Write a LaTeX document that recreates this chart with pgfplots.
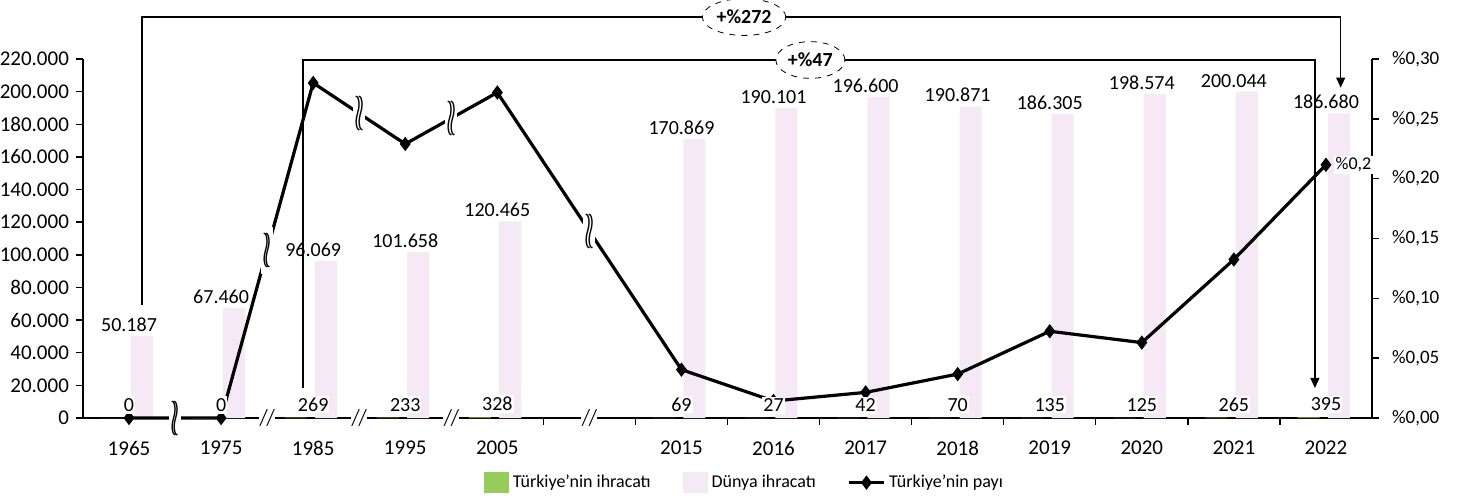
\documentclass[border=0pt]{standalone}
\usepackage{pgfplots}
\pgfplotsset{compat=1.18}
\usepackage{fontspec}
\setmainfont{Carlito}
\usetikzlibrary{shapes.geometric, arrows.meta}

\definecolor{world}{RGB}{244,233,244}
\definecolor{trgreen}{RGB}{150,204,90}

\pgfplotsset{
  common/.style={
    scale only axis, width=644.5pt, height=179.5pt,
    at={(0,0)}, anchor=south west,
    xmin=-0.5, xmax=13.5,
    clip=false,
    /pgf/number format/assume math mode=true,
  }
}
\newcommand{\wavy}{\scalebox{1.3}[2.6]{$\wr\!\wr$}}
\newcommand{\brkslash}{\scalebox{1}[1.3]{\itshape //}}

\begin{document}
\begin{tikzpicture}
\useasboundingbox (-41.5pt,-38.5pt) rectangle (690.5pt,209pt);

% ---------- axis 1: world exports (left scale) ----------
\begin{axis}[common,
  ymin=0, ymax=220000,
  axis y line*=left, axis x line*=bottom,
  axis line style={-, black, line width=0.7pt},
  ytick={0,20000,...,220000},
  scaled y ticks=false,
  yticklabel style={/pgf/number format/.cd, fixed, precision=0, 1000 sep={.}},
  tick label style={font=\fontsize{10.5}{12}\selectfont},
  xtick={4.5,5.5,...,12.5},
  xticklabels={},
  extra x ticks={0,1,2,3,4,6,7,8,9,10,11,12,13},
  extra x tick labels={1965,1975,1985,1995,2005,2015,2016,2017,2018,2019,2020,2021,2022},
  extra x tick style={major tick length=0pt},
  xticklabel style={yshift=-8pt},
  tick align=outside,
  major tick length=3.5pt,
  tick style={black, line width=0.7pt},
  legend style={at={(0.514,-0.18)}, anchor=center, draw=none, fill=none,
    legend columns=3, font=\fontsize{9}{10}\selectfont,
    /tikz/every even column/.append style={column sep=14pt}},
]
\addlegendimage{legend image code/.code={\fill[trgreen] (0pt,-5pt) rectangle (12pt,5pt);}}
\addlegendentry{Türkiye’nin ihracatı}
\addlegendimage{legend image code/.code={\fill[world] (0pt,-5pt) rectangle (12pt,5pt);}}
\addlegendentry{Dünya ihracatı}
\addlegendimage{black, line width=1.6pt, mark=diamond*, mark size=2.3pt}
\addlegendentry{Türkiye’nin payı}

\addplot[ybar, forget plot, bar width=0.24, bar shift=0.14, fill=world, draw=none,
  nodes near coords={\pgfmathprintnumber[fixed,precision=0,1000 sep={.},assume math mode=true]{\pgfplotspointmeta}},
  nodes near coords style={font=\fontsize{10}{12}\selectfont, black, anchor=south, inner sep=2pt}]
coordinates {(0,50187) (1,67460) (2,96069) (3,101658) (4,120465) (6,170869) (7,190101)
 (8,196600) (9,190871) (10,186305) (11,198574) (12,200044) (13,186680)};

% annotation arrows
\draw[line width=0.6pt, -{Triangle[length=5pt,width=4.5pt]}]
  (axis cs:0.14,69000) -- (axis cs:0.14,245700) -- (axis cs:13.16,245700) -- (axis cs:13.16,202500);
\node[draw, dashed, ellipse, fill=white, inner xsep=1pt, inner ysep=3pt, font=\fontsize{10}{11}\selectfont\bfseries]
  at (axis cs:6.68,245700) {+\%272};
\draw[line width=0.6pt, -{Triangle[length=5pt,width=4.5pt]}]
  (axis cs:1.89,18400) -- (axis cs:1.89,219400) -- (axis cs:12.88,219400) -- (axis cs:12.88,18400);
\node[draw, dashed, ellipse, fill=white, inner xsep=1pt, inner ysep=3pt, font=\fontsize{10}{11}\selectfont\bfseries]
  at (axis cs:7.40,219400) {+\%47};
\end{axis}

% ---------- axis 2: share (right scale) ----------
\begin{axis}[common,
  ymin=0, ymax=0.30,
  axis y line*=right, axis x line=none,
  axis line style={-, black, line width=0.7pt},
  ytick={0,0.05,0.1,0.15,0.2,0.25,0.3},
  yticklabels={{\%0,00},{\%0,05},{\%0,10},{\%0,15},{\%0,20},{\%0,25},{\%0,30}},
  tick label style={font=\fontsize{9.5}{11}\selectfont},
  yticklabel style={xshift=3pt},
  tick align=outside, major tick length=3.5pt,
  tick style={black, line width=0.7pt},
]
\addplot[black, line width=1.6pt, mark=diamond*, mark size=2.3pt]
coordinates {(0,0) (1,0) (2,0.280) (3,0.229) (4,0.272) (6,0.0404) (7,0.0142)
 (8,0.0214) (9,0.0367) (10,0.0725) (11,0.0630) (12,0.1325) (13,0.2116)};
\node[fill=white, inner sep=1pt, anchor=west, font=\fontsize{9}{10}\selectfont]
  at (axis cs:13.08,0.2116) {\%0,2};
% line breaks
\node[fill=white, inner xsep=0.5pt, inner ysep=0pt] at (axis cs:0.5,0) {\wavy};
\node[fill=white, inner xsep=0.5pt, inner ysep=0pt] at (axis cs:1.5,0.14) {\wavy};
\node[fill=white, inner xsep=0.5pt, inner ysep=0pt] at (axis cs:2.5,0.2545) {\wavy};
\node[fill=white, inner xsep=0.5pt, inner ysep=0pt] at (axis cs:3.5,0.2505) {\wavy};
\node[fill=white, inner xsep=0.5pt, inner ysep=0pt] at (axis cs:5,0.156) {\wavy};
% axis breaks
\node[fill=white, inner xsep=0.5pt, inner ysep=0pt, font=\fontsize{9}{9}\selectfont] at (axis cs:1.5,0) {\brkslash};
\node[fill=white, inner xsep=0.5pt, inner ysep=0pt, font=\fontsize{9}{9}\selectfont] at (axis cs:2.5,0) {\brkslash};
\node[fill=white, inner xsep=0.5pt, inner ysep=0pt, font=\fontsize{9}{9}\selectfont] at (axis cs:3.5,0) {\brkslash};
\node[fill=white, inner xsep=0.5pt, inner ysep=0pt, font=\fontsize{9}{9}\selectfont] at (axis cs:5,0) {\brkslash};
\end{axis}

% ---------- axis 3: Turkey exports (left scale, hidden) ----------
\begin{axis}[common, ymin=0, ymax=220000, hide axis]
\addplot[ybar, bar width=0.24, bar shift=-0.19, fill=trgreen, draw=none,
  nodes near coords={\pgfmathprintnumber[assume math mode=true]{\pgfplotspointmeta}},
  nodes near coords style={font=\fontsize{10}{12}\selectfont, black, fill=white,
    inner xsep=0.5pt, inner ysep=1pt, anchor=south, yshift=2pt}]
coordinates {(0,0) (1,0) (2,269) (3,233) (4,328) (6,69) (7,27) (8,42) (9,70)
 (10,135) (11,125) (12,265) (13,395)};
\end{axis}
\end{tikzpicture}
\end{document}
